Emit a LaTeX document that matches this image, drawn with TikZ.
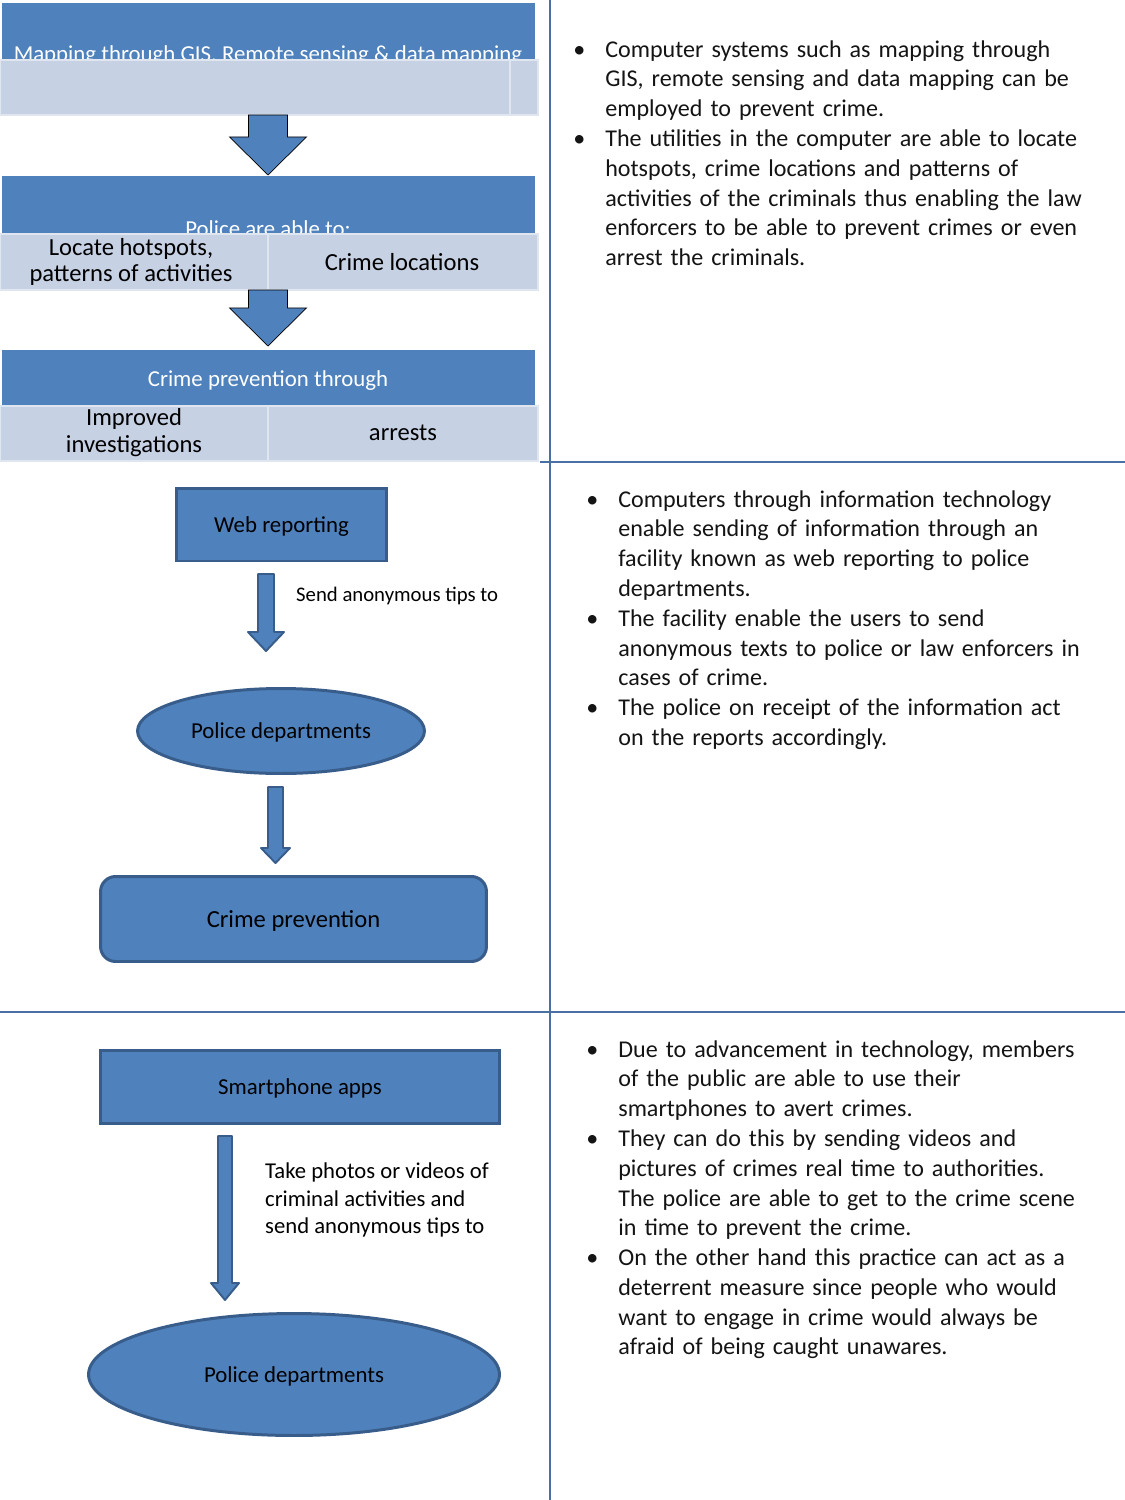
\documentclass[tikz,border=0pt]{standalone}
\usepackage{fontspec}
\setmainfont{Carlito}
\usetikzlibrary{calc,shapes.geometric}

\definecolor{bandblue}{RGB}{79, 129, 189}
\definecolor{bandlight}{RGB}{199, 209, 228}
\definecolor{boxline}{RGB}{56, 93, 138}
\definecolor{ruleblue}{RGB}{74, 111, 165}
\definecolor{notetext}{RGB}{20, 20, 20}

% block arrow pointing down: [style]{top}{tip}{shaft half width}{head half width}{head length}
\newcommand{\blockdown}[6][]{%
  \draw[#1] ($(#2)+(-#4,0)$) -- ($(#3)+(-#4,-#6)$) -- ($(#3)+(-#5,-#6)$) -- (#3)
    -- ($(#3)+(#5,-#6)$) -- ($(#3)+(#4,-#6)$) -- ($(#2)+(#4,0)$) -- cycle;}

\newenvironment{pointlist}{%
  \begin{list}{\textbullet}{\setlength{\leftmargin}{0.5cm}\setlength{\labelsep}{0.4cm}%
    \setlength{\labelwidth}{0.3cm}\setlength{\itemsep}{0pt}\setlength{\parsep}{0pt}%
    \setlength{\topsep}{0pt}\setlength{\partopsep}{0pt}}}{\end{list}}

\begin{document}
\begin{tikzpicture}[
  x=0.02cm,
  y=-0.02cm,
  band/.style={fill=bandblue},
  lightband/.style={fill=bandlight, draw=bandlight!55!white, line width=0.6pt},
  bandtext/.style={font=\fontsize{13}{15.6}\selectfont, text=white, anchor=base},
  celltext/.style={font=\fontsize{14}{15.3}\selectfont, text=black, align=center},
  fatarrow/.style={fill=bandblue},
  thinarrow/.style={fill=bandblue, draw=boxline, line width=1.1pt, line join=round},
  flowbox/.style={draw=boxline, fill=bandblue, line width=1.7pt, inner sep=0pt, text depth=0pt, font=\fontsize{13}{15.6}\selectfont},
  flowoval/.style={flowbox, ellipse},
  sidelabel/.style={anchor=west, align=left, font=\fontsize{11.8}{15.6}\selectfont},
  notes/.style={anchor=north west, inner sep=0pt, text width=10.6cm, align=left, text=notetext, font=\fontsize{13.7}{16.95}\selectfont},
  divider/.style={draw=ruleblue, line width=0.9pt}
]
  \useasboundingbox (0,0) rectangle (1125,1500);
  \fill[white] (0,0) rectangle (1125,1500);

  % Page rules
  \draw[divider] (550,0) -- (550,1500);
  \draw[divider] (540,462) -- (1125,462);
  \draw[divider] (0,1012) -- (1125,1012);

  % Mapping band
  \fill[band] (2,3) rectangle (535,115);
  \node[bandtext] (mapping) at (268,62) {Mapping through GIS, Remote sensing \& data mapping};
  \path[lightband] (0,60) rectangle (510,115);
  \path[lightband] (510,60) rectangle (538,115);

  \coordinate (mapfoot) at (268,115);
  \coordinate (policehead) at (268,175);
  \blockdown[fatarrow]{mapfoot}{policehead}{19.5}{38.5}{38}

  % Police band
  \fill[band] (2,176) rectangle (535,290);
  \node[bandtext] (police) at (268,237) {Police are able to:};
  \path[lightband] (0,234) rectangle (268,290);
  \path[lightband] (268,234) rectangle (538,290);
  \node[celltext] (hotspots) at (131,262) {Locate hotspots,\\patterns of activities};
  \node[celltext] (locations) at (402,262) {Crime locations};

  \coordinate (policefoot) at (268,290);
  \coordinate (preventhead) at (268,346);
  \blockdown[fatarrow]{policefoot}{preventhead}{19.5}{38.5}{38}

  % Prevention band
  \fill[band] (2,350) rectangle (535,461);
  \node[bandtext] (through) at (268,386) {Crime prevention through};
  \path[lightband] (0,406) rectangle (268,461);
  \path[lightband] (268,406) rectangle (538,461);
  \node[celltext] (investig) at (134,433) {Improved\\investigations};
  \node[celltext] (arrests) at (403,433) {arrests};

  % Web reporting flow
  \node[flowbox, minimum width=4.22cm, minimum height=1.46cm] (web) at (281.5,524.5) {Web reporting};
  \coordinate (sendtop) at (266,574);
  \coordinate (sendtip) at (266,651);
  \blockdown[thinarrow]{sendtop}{sendtip}{8}{18}{19}
  \node[sidelabel] (sendlabel) at (290,596) {Send anonymous tips to};
  \node[flowoval, minimum width=5.74cm, minimum height=1.70cm] (dept) at (281,731) {Police departments};
  \coordinate (deptfoot) at (275.5,787);
  \coordinate (prevtip) at (275.5,863);
  \blockdown[thinarrow]{deptfoot}{prevtip}{7.5}{14.5}{15}
  \node[flowbox, rounded corners=0.3cm, minimum width=7.72cm, minimum height=1.70cm,
    font=\fontsize{14}{16.8}\selectfont] (prevent) at (293.5,919) {Crime prevention};

  % Smartphone flow
  \node[flowbox, minimum width=7.98cm, minimum height=1.46cm] (apps) at (300,1087) {Smartphone apps};
  \coordinate (appsfoot) at (225,1136);
  \coordinate (appstip) at (225,1300);
  \blockdown[thinarrow]{appsfoot}{appstip}{7}{14}{17}
  \node[sidelabel, font=\fontsize{12.9}{15.6}\selectfont] (photolabel) at (259,1200)
    {Take photos or videos of\\criminal activities and\\send anonymous tips to};
  \node[flowoval, minimum width=8.22cm, minimum height=2.44cm] (dept2) at (294,1374.5) {Police departments};

  % Right-hand notes
  \node[notes] (gisnotes) at (580,27) {\begin{pointlist}
    \item Computer systems such as mapping through\newline GIS, remote sensing and data mapping can be\newline employed to prevent crime.
    \item The utilities in the computer are able to locate\newline hotspots, crime locations and patterns of\newline activities of the criminals thus enabling the law\newline enforcers to be able to prevent crimes or even\newline arrest the criminals.
  \end{pointlist}};

  \node[notes] (webnotes) at (593,477) {\begin{pointlist}
    \item Computers through information technology\newline enable sending of information through an\newline facility known as web reporting to police\newline departments.
    \item The facility enable the users to send\newline anonymous texts to police or law enforcers in\newline cases of crime.
    \item The police on receipt of the information act\newline on the reports accordingly.
  \end{pointlist}};

  \node[notes] (appnotes) at (593,1027) {\begin{pointlist}
    \item Due to advancement in technology, members\newline of the public are able to use their\newline smartphones to avert crimes.
    \item They can do this by sending videos and\newline pictures of crimes real time to authorities.\newline The police are able to get to the crime scene\newline in time to prevent the crime.
    \item On the other hand this practice can act as a\newline deterrent measure since people who would\newline want to engage in crime would always be\newline afraid of being caught unawares.
  \end{pointlist}};

\end{tikzpicture}
\end{document}
